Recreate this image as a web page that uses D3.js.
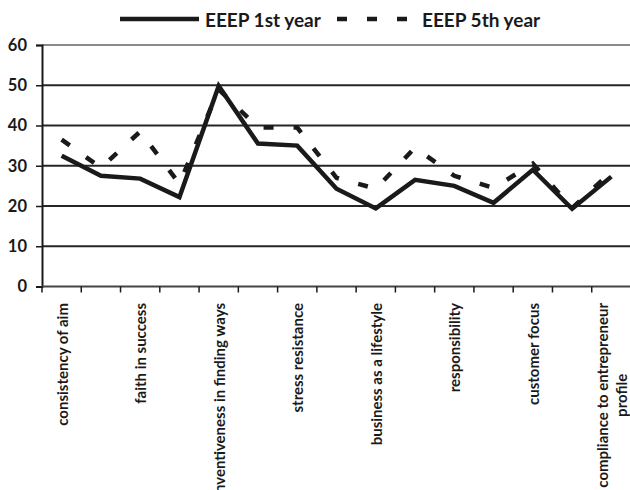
<!DOCTYPE html>
<html>
<head>
<meta charset="utf-8">
<script src="https://cdn.jsdelivr.net/npm/d3@7"></script>
<style>
  html, body { margin: 0; padding: 0; background: #fff; }
  svg { display: block; }
  text { font-family: Lato, "Open Sans", sans-serif; font-weight: bold; fill: #1a1a1a; }
</style>
</head>
<body>
<svg id="chart" width="630" height="490"></svg>
<script>
// ---- data ----
const categories = [
  "consistency of aim", "", "faith in success", "",
  "inventiveness in finding ways", "", "stress resistance", "",
  "business as a lifestyle", "", "responsibility", "",
  "customer focus", "", "compliance to entrepreneur\nprofile"
];
const seriesNames = ["EEEP 1st year", "EEEP 5th year"];
const year1 = [32.5, 27.5, 26.8, 22.2, 49.8, 35.5, 35.0, 24.3, 19.4, 26.5, 25.0, 20.8, 29.0, 19.3, 27.3];
const year5 = [36.5, 29.5, 38.5, 25.5, 49.0, 39.5, 39.5, 27.0, 24.3, 34.5, 27.5, 24.5, 30.5, 19.5, 28.5];
const yTicks = [0, 10, 20, 30, 40, 50, 60];

// ---- layout ----
const svg = d3.select("#chart");
const pLeft = 42, pRight = 631, pTop = 45, pBottom = 286.5;

const x = d3.scaleBand().domain(d3.range(categories.length)).range([pLeft, pRight]).padding(0);
const y = d3.scaleLinear().domain([0, 60]).range([pBottom, pTop]);

// gridlines
svg.append("g").selectAll("line")
  .data(yTicks.filter(t => t > 0))
  .join("line")
  .attr("x1", pLeft).attr("x2", 630)
  .attr("y1", d => y(d)).attr("y2", d => y(d))
  .attr("stroke", d => d === 60 ? "#8a8a8a" : "#262626")
  .attr("stroke-width", 2);

// y axis
const yAxis = svg.append("g")
  .attr("transform", `translate(${pLeft},0)`)
  .call(d3.axisLeft(y).tickValues(yTicks).tickSize(6).tickPadding(9));
yAxis.select(".domain").attr("stroke", "#1a1a1a").attr("stroke-width", 2);
yAxis.selectAll(".tick line").attr("stroke", "#1a1a1a").attr("stroke-width", 1.5);
yAxis.selectAll(".tick text").style("font-size", "16.5px").attr("fill", "#1a1a1a")
  .style("font-family", "Lato, sans-serif").style("font-weight", "bold");

// x axis line and ticks at category boundaries
svg.append("line")
  .attr("x1", pLeft).attr("x2", 630)
  .attr("y1", pBottom).attr("y2", pBottom)
  .attr("stroke", "#444").attr("stroke-width", 2);
const boundaries = d3.range(categories.length + 1).map(i => pLeft + i * x.bandwidth());
svg.append("g").selectAll("line")
  .data(boundaries)
  .join("line")
  .attr("x1", d => d).attr("x2", d => d)
  .attr("y1", pBottom).attr("y2", pBottom + 6)
  .attr("stroke", "#1a1a1a").attr("stroke-width", 1.5);

// category labels (rotated)
const labelTop = 303;
const lg = svg.append("g");
categories.forEach((c, i) => {
  if (!c) return;
  const lines = c.split("\n");
  const cx = x(i) + x.bandwidth() / 2;
  const g = lg.append("g").attr("transform", `translate(${cx},${labelTop}) rotate(-90)`);
  const texts = lines.map((ln, k) => g.append("text")
    .attr("text-anchor", "middle")
    .attr("dominant-baseline", "central")
    .attr("y", (k - (lines.length - 1) / 2) * 19)
    .style("font-size", "15px")
    .text(ln));
  const w = d3.max(texts, t => t.node().getComputedTextLength());
  texts.forEach(t => t.attr("x", -w / 2));
});

// lines
const line = d3.line().x((d, i) => x(i) + x.bandwidth() / 2).y(d => y(d));
svg.append("path").datum(year5)
  .attr("d", line).attr("fill", "none")
  .attr("stroke", "#1a1a1a").attr("stroke-width", 4.5)
  .attr("stroke-dasharray", "10,20");
svg.append("path").datum(year1)
  .attr("d", line).attr("fill", "none")
  .attr("stroke", "#1a1a1a").attr("stroke-width", 4.5)
  .attr("stroke-linejoin", "miter");

// legend
const leg = svg.append("g");
leg.append("line").attr("x1", 120).attr("x2", 199).attr("y1", 19).attr("y2", 19)
  .attr("stroke", "#1a1a1a").attr("stroke-width", 4.5);
leg.append("text").attr("x", 205).attr("y", 26.5).style("font-size", "19px").text(seriesNames[0]);
leg.append("line").attr("x1", 337).attr("x2", 407).attr("y1", 19).attr("y2", 19)
  .attr("stroke", "#1a1a1a").attr("stroke-width", 4.5).attr("stroke-dasharray", "10,20");
leg.append("text").attr("x", 422).attr("y", 26.5).style("font-size", "19px").text(seriesNames[1]);
</script>
</body>
</html>
